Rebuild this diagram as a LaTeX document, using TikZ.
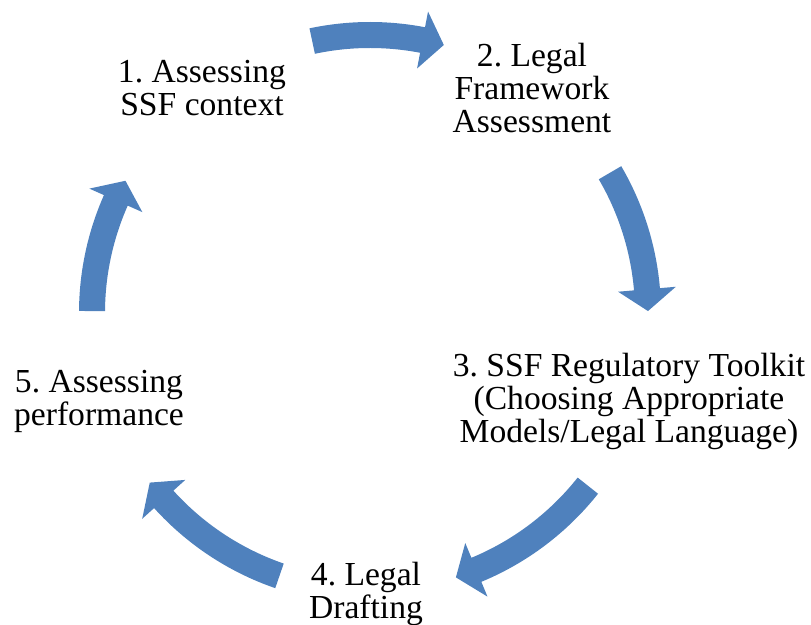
\documentclass[tikz,border=0pt]{standalone}
\usepackage{fontspec}
\setmainfont{Liberation Serif}
\usetikzlibrary{positioning}
\definecolor{cycleblue}{RGB}{79,129,189}
\frenchspacing

% block arrow on the ring: tail angle, tip angle
\newcommand{\ringarrow}[2]{%
  \fill [cycleblue] (#1:291) arc [start angle=#1, end angle=#2+4.5, radius=291]
    -- (#2+4.5:307) -- (#2:278) -- (#2+4.5:249) -- (#2+4.5:265)
    arc [start angle=#2+4.5, end angle=#1, radius=265] -- cycle;}

\begin{document}
\begin{tikzpicture}[x=0.5pt, y=0.5pt,
  stage/.style={align=center, inner sep=0pt,
    font=\fontsize{16.8}{16.5}\selectfont}]
  \useasboundingbox (-370,-312) rectangle (441,313);

  \node (context) at (-168,225) [stage] {1. Assessing\\SSF context};
  \node (framework) at (162,225) [stage] {2. Legal\\Framework\\Assessment};
  \node (toolkit) at (259,-88) [stage] {3. SSF Regulatory Toolkit\\(Choosing Appropriate\\Models/Legal Language)};
  \node (drafting) at (-4,-281) [stage] {4. Legal\\Drafting};
  \node (performance) at (-271,-88) [stage] {5. Assessing\\performance};

  \ringarrow{102}{74.6}
  \ringarrow{30.3}{0.4}
  \ringarrow{-38.4}{-72}
  \ringarrow{-109}{-142.4}
  \ringarrow{179.6}{151.6}
\end{tikzpicture}
\end{document}
